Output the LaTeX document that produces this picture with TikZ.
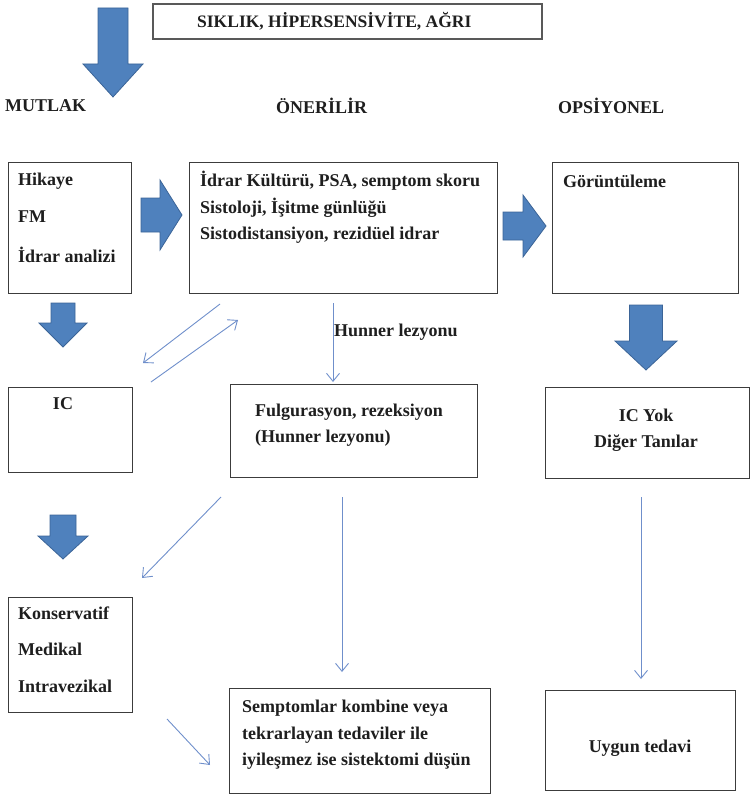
\documentclass[tikz,border=0pt]{standalone}
\usepackage{fontspec}
\setmainfont{Liberation Serif}
\usetikzlibrary{arrows.meta}
\definecolor{blockfill}{HTML}{4F81BD}
\definecolor{blockedge}{HTML}{3B6497}
\definecolor{thinblue}{HTML}{6F8FCB}
\definecolor{boxedge}{HTML}{3C3C3C}
\definecolor{inktext}{HTML}{1E1E1E}

% empty framed panel: name, x, y (top-left), width, height
\newcommand\panel[5]{%
  \node[box, anchor=north west, minimum width=#4pt, minimum height=#5pt] (#1) at (#2,#3) {};}
% downward block arrow: x, top, neck, tip, shaft half-width, head half-width
\newcommand\downblock[6]{%
  \filldraw[block] (#1-#5,#2) -- (#1+#5,#2) -- (#1+#5,#3) -- (#1+#6,#3) -- (#1,#4)
    -- (#1-#6,#3) -- (#1-#5,#3) -- cycle;}
% rightward block arrow: y middle, left, neck, tip, shaft half-height, head half-height
\newcommand\rightblock[6]{%
  \filldraw[block] (#2,#1-#5) -- (#3,#1-#5) -- (#3,#1-#6) -- (#4,#1) -- (#3,#1+#6)
    -- (#3,#1+#5) -- (#2,#1+#5) -- cycle;}

\begin{document}
\begin{tikzpicture}[x=1pt,y=-1pt,
  box/.style={draw=boxedge, line width=1.2pt, inner sep=0pt},
  titlebox/.style={draw=black!65, line width=1.6pt, inner sep=0pt},
  block/.style={fill=blockfill, draw=blockedge, line width=0.8pt, line join=miter},
  lbl/.style={font=\bfseries\fontsize{18}{21}\selectfont, inner sep=0pt, text=inktext},
  lblw/.style={lbl, anchor=west},
  thinarr/.style={draw=thinblue, line width=0.9pt,
    -{Straight Barb[length=8pt,width=13pt,line width=0.9pt]}}]
\useasboundingbox (0,0) rectangle (751,797);

% ---- title and column headings
\node[titlebox, anchor=north west, minimum width=389pt, minimum height=35pt] (title) at (152,3) {};
\node[lblw, font=\bfseries\fontsize{17.5}{20}\selectfont] (titletxt) at (197,21) {SIKLIK, HİPERSENSİVİTE, AĞRI};
\node[lblw] (hmut) at (5,106) {MUTLAK};
\node[lblw] (hone) at (276,106) {ÖNERİLİR};
\node[lblw] (hops) at (558,106) {OPSİYONEL};

% ---- panels
\panel{hik}{8}{162}{123}{131}
\panel{one}{189}{162}{308}{131}
\panel{gor}{552}{162}{186}{131}
\panel{ic}{8}{387}{124}{85}
\panel{fulg}{230}{384}{247}{93}
\panel{icyok}{545}{387}{204}{91}
\panel{kons}{8}{597}{124}{115}
\panel{semp}{229}{688}{261}{105}
\panel{uyg}{545}{690}{190}{100}

% ---- panel texts
\node[lblw] (t1) at (18,181) {Hikaye};
\node[lblw] (t2) at (18,217) {FM};
\node[lblw] (t3) at (18,255) {İdrar analizi};
\node[lblw] (t4) at (200,181) {İdrar Kültürü, PSA, semptom skoru};
\node[lblw] (t5) at (200,208) {Sistoloji, İşitme günlüğü};
\node[lblw] (t6) at (200,235) {Sistodistansiyon, rezidüel idrar};
\node[lblw] (t7) at (563,181) {Görüntüleme};
\node[lbl] (t8) at (63,404) {IC};
\node[lblw] (t9) at (255,412) {Fulgurasyon, rezeksiyon};
\node[lblw] (t10) at (255,438) {(Hunner lezyonu)};
\node[lbl] (t11) at (646,415) {IC Yok};
\node[lbl] (t12) at (646,443) {Diğer Tanılar};
\node[lblw] (t13) at (18,613) {Konservatif};
\node[lblw] (t14) at (18,649) {Medikal};
\node[lblw] (t15) at (18,686) {Intravezikal};
\node[lblw] (t16) at (242,708) {Semptomlar kombine veya};
\node[lblw] (t17) at (242,735) {tekrarlayan tedaviler ile};
\node[lblw] (t18) at (242,761) {iyileşmez ise sistektomi düşün};
\node[lbl] (t19) at (640,748) {Uygun tedavi};

% ---- block arrows
\downblock{113}{8}{64}{97}{15}{30}
\downblock{63}{303}{323}{347}{12}{24}
\downblock{63}{515}{536}{559}{13}{25}
\downblock{646}{305}{341}{370}{16.5}{31}
\rightblock{215}{141}{160}{182}{17}{35}
\rightblock{226}{503}{523}{546}{14}{31}

% ---- thin connectors
\coordinate (d1s) at (220,304); \coordinate (d1e) at (143,363);
\coordinate (d2s) at (151,382); \coordinate (d2e) at (238,320);
\coordinate (v1s) at (333,303); \coordinate (v1e) at (333,382);
\coordinate (d3s) at (221,497); \coordinate (d3e) at (142,578);
\coordinate (v2s) at (342,497); \coordinate (v2e) at (342,672);
\coordinate (v3s) at (641,497); \coordinate (v3e) at (641,679);
\coordinate (d4s) at (167,719); \coordinate (d4e) at (210,765);
\draw[thinarr] (d1s) -- (d1e);
\draw[thinarr] (d2s) -- (d2e);
\draw[thinarr] (v1s) -- (v1e);
\draw[thinarr] (d3s) -- (d3e);
\draw[thinarr] (v2s) -- (v2e);
\draw[thinarr] (v3s) -- (v3e);
\draw[thinarr] (d4s) -- (d4e);
\node[lblw] (hunner) at (334,332) {Hunner lezyonu};
\end{tikzpicture}
\end{document}
